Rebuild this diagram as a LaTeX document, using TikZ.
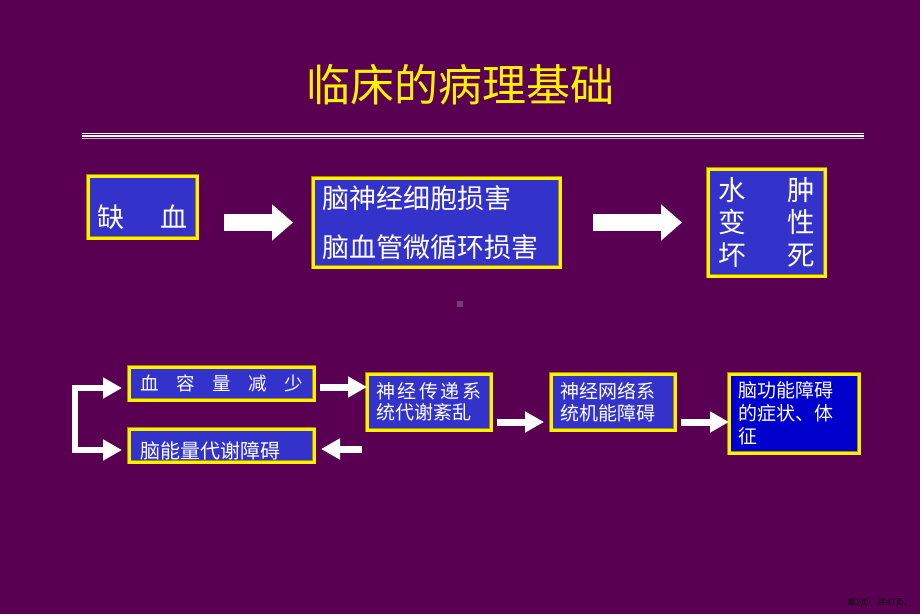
\documentclass[tikz,border=0pt]{standalone}
\usepackage{fontspec}
\setmainfont{Liberation Sans}
\newfontfamily\cjk{Noto Sans CJK SC}
\usetikzlibrary{arrows.meta}
\definecolor{bgpurple}{RGB}{90,0,82}
\definecolor{boxblue}{RGB}{51,51,204}
\definecolor{deepblue}{RGB}{0,0,204}
\definecolor{rimgold}{RGB}{170,140,0}
\definecolor{speck}{RGB}{122,58,122}

\begin{document}
\begin{tikzpicture}[x=1pt,y=-1pt,
  box/.style={draw=rimgold, line width=0.8pt, double=yellow, double distance=3pt,
    fill=boxblue, text=white, outer sep=0pt, inner ysep=2pt, align=left},
  bigarrow/.style={white, line width=17pt, -{Triangle[length=21pt,width=35pt]}},
  smallarrow/.style={white, line width=7pt, -{Triangle[length=19pt,width=20pt]}},
  looparrow/.style={white, line width=6pt, line join=miter,
    {Triangle[length=19pt,width=20pt]}-{Triangle[length=19pt,width=20pt]}}]
\useasboundingbox (0,0) rectangle (920,614);
\fill[bgpurple] (0,0) rectangle (920,614);

\node[text=yellow, font=\cjk\fontsize{44}{50}\selectfont] (title) at (460,85) {临床的病理基础};
\draw[white, line width=1pt] (82,133.5) -- (864,133.5);
\draw[white, line width=1.5pt] (82,136) -- (864,136);
\draw[white!70!bgpurple, line width=1.5pt] (82,138.5) -- (864,138.5);

\node[box, minimum width=109, minimum height=62, text width=91, inner xsep=9,
  text height=43.6pt, text depth=3pt, font=\cjk\fontsize{27}{30}\selectfont]
  (b1) at (142.5,207) {缺\hfill 血};
\node[box, minimum width=247, minimum height=89, text width=229, inner xsep=9,
  font=\cjk\fontsize{27}{49}\selectfont]
  (b2) at (436.5,222.5) {脑神经细胞损害\\脑血管微循环损害};
\node[box, minimum width=117, minimum height=107, text width=97, inner xsep=10,
  font=\cjk\fontsize{27.5}{32.5}\selectfont]
  (b3) at (766.5,222.5) {水\hfill 肿\\变\hfill 性\\坏\hfill 死};

\draw[bigarrow, shorten <=27pt, shorten >=20pt] (b1.east |- b2.west) -- (b2.west);
\draw[bigarrow, shorten <=33pt, shorten >=26pt] (b2.east) -- (b3.west);

\fill[speck] (457,301) rectangle (463,307);

\node[box, minimum width=185, minimum height=33, text width=163, inner xsep=11,
  font=\cjk\fontsize{18.5}{21}\selectfont]
  (b4) at (221.5,383.5) {血\hfill 容\hfill 量\hfill 减\hfill 少};
\node[box, minimum width=185, minimum height=33, text width=163, inner xsep=11, inner ysep=0pt,
  text height=29.2pt, text depth=3pt, font=\cjk\fontsize{20}{22}\selectfont]
  (b5) at (221.5,445.5) {脑能量代谢障碍};
\node[box, minimum width=124, minimum height=56, text width=105, inner xsep=9.5,
  font=\cjk\fontsize{19}{21.5}\selectfont]
  (b6) at (429,402) {神\hfill 经\hfill 传\hfill 递\hfill 系\\统代谢紊乱};
\node[box, minimum width=124, minimum height=56, text width=106, inner xsep=9,
  font=\cjk\fontsize{19}{21.5}\selectfont]
  (b7) at (613,402) {神经网络系\\统机能障碍};
\node[box, fill=deepblue, minimum width=130, minimum height=79, text width=112, inner xsep=9,
  font=\cjk\fontsize{19}{23}\selectfont]
  (b8) at (794,413.5) {脑功能障碍\\的症状、体\\征};

\coordinate (brk) at (74.5,419);
\coordinate (up) at ([yshift=-4.5pt]b4.west);
\coordinate (dn) at ([yshift=-4.5pt]b5.west);
\coordinate (fw) at ([yshift=-3.5pt]b4.east);
\coordinate (back) at ([yshift=-3.5pt]b5.east);
\coordinate (ret) at ([xshift=48pt]back);
\coordinate (a1) at ([yshift=8pt]b6.south east);
\coordinate (a2) at ([yshift=8pt]b7.south east);

\draw[looparrow, shorten <=7pt, shorten >=7pt] (up) -| (brk) |- (dn);
\draw[smallarrow, shorten <=6pt] (fw) -- (fw -| b6.west);
\draw[smallarrow, shorten >=7pt] (ret) -- (back);
\draw[smallarrow, shorten <=6pt, shorten >=7pt] (a1) -- (a1 -| b7.west);
\draw[smallarrow, shorten <=6pt] (a2) -- (a2 -| b8.west);

\node[text=black!85!bgpurple, font=\cjk\fontsize{8.5}{10}\selectfont] (pg) at (880,602) {第2页，共47页。};
\end{tikzpicture}
\end{document}
